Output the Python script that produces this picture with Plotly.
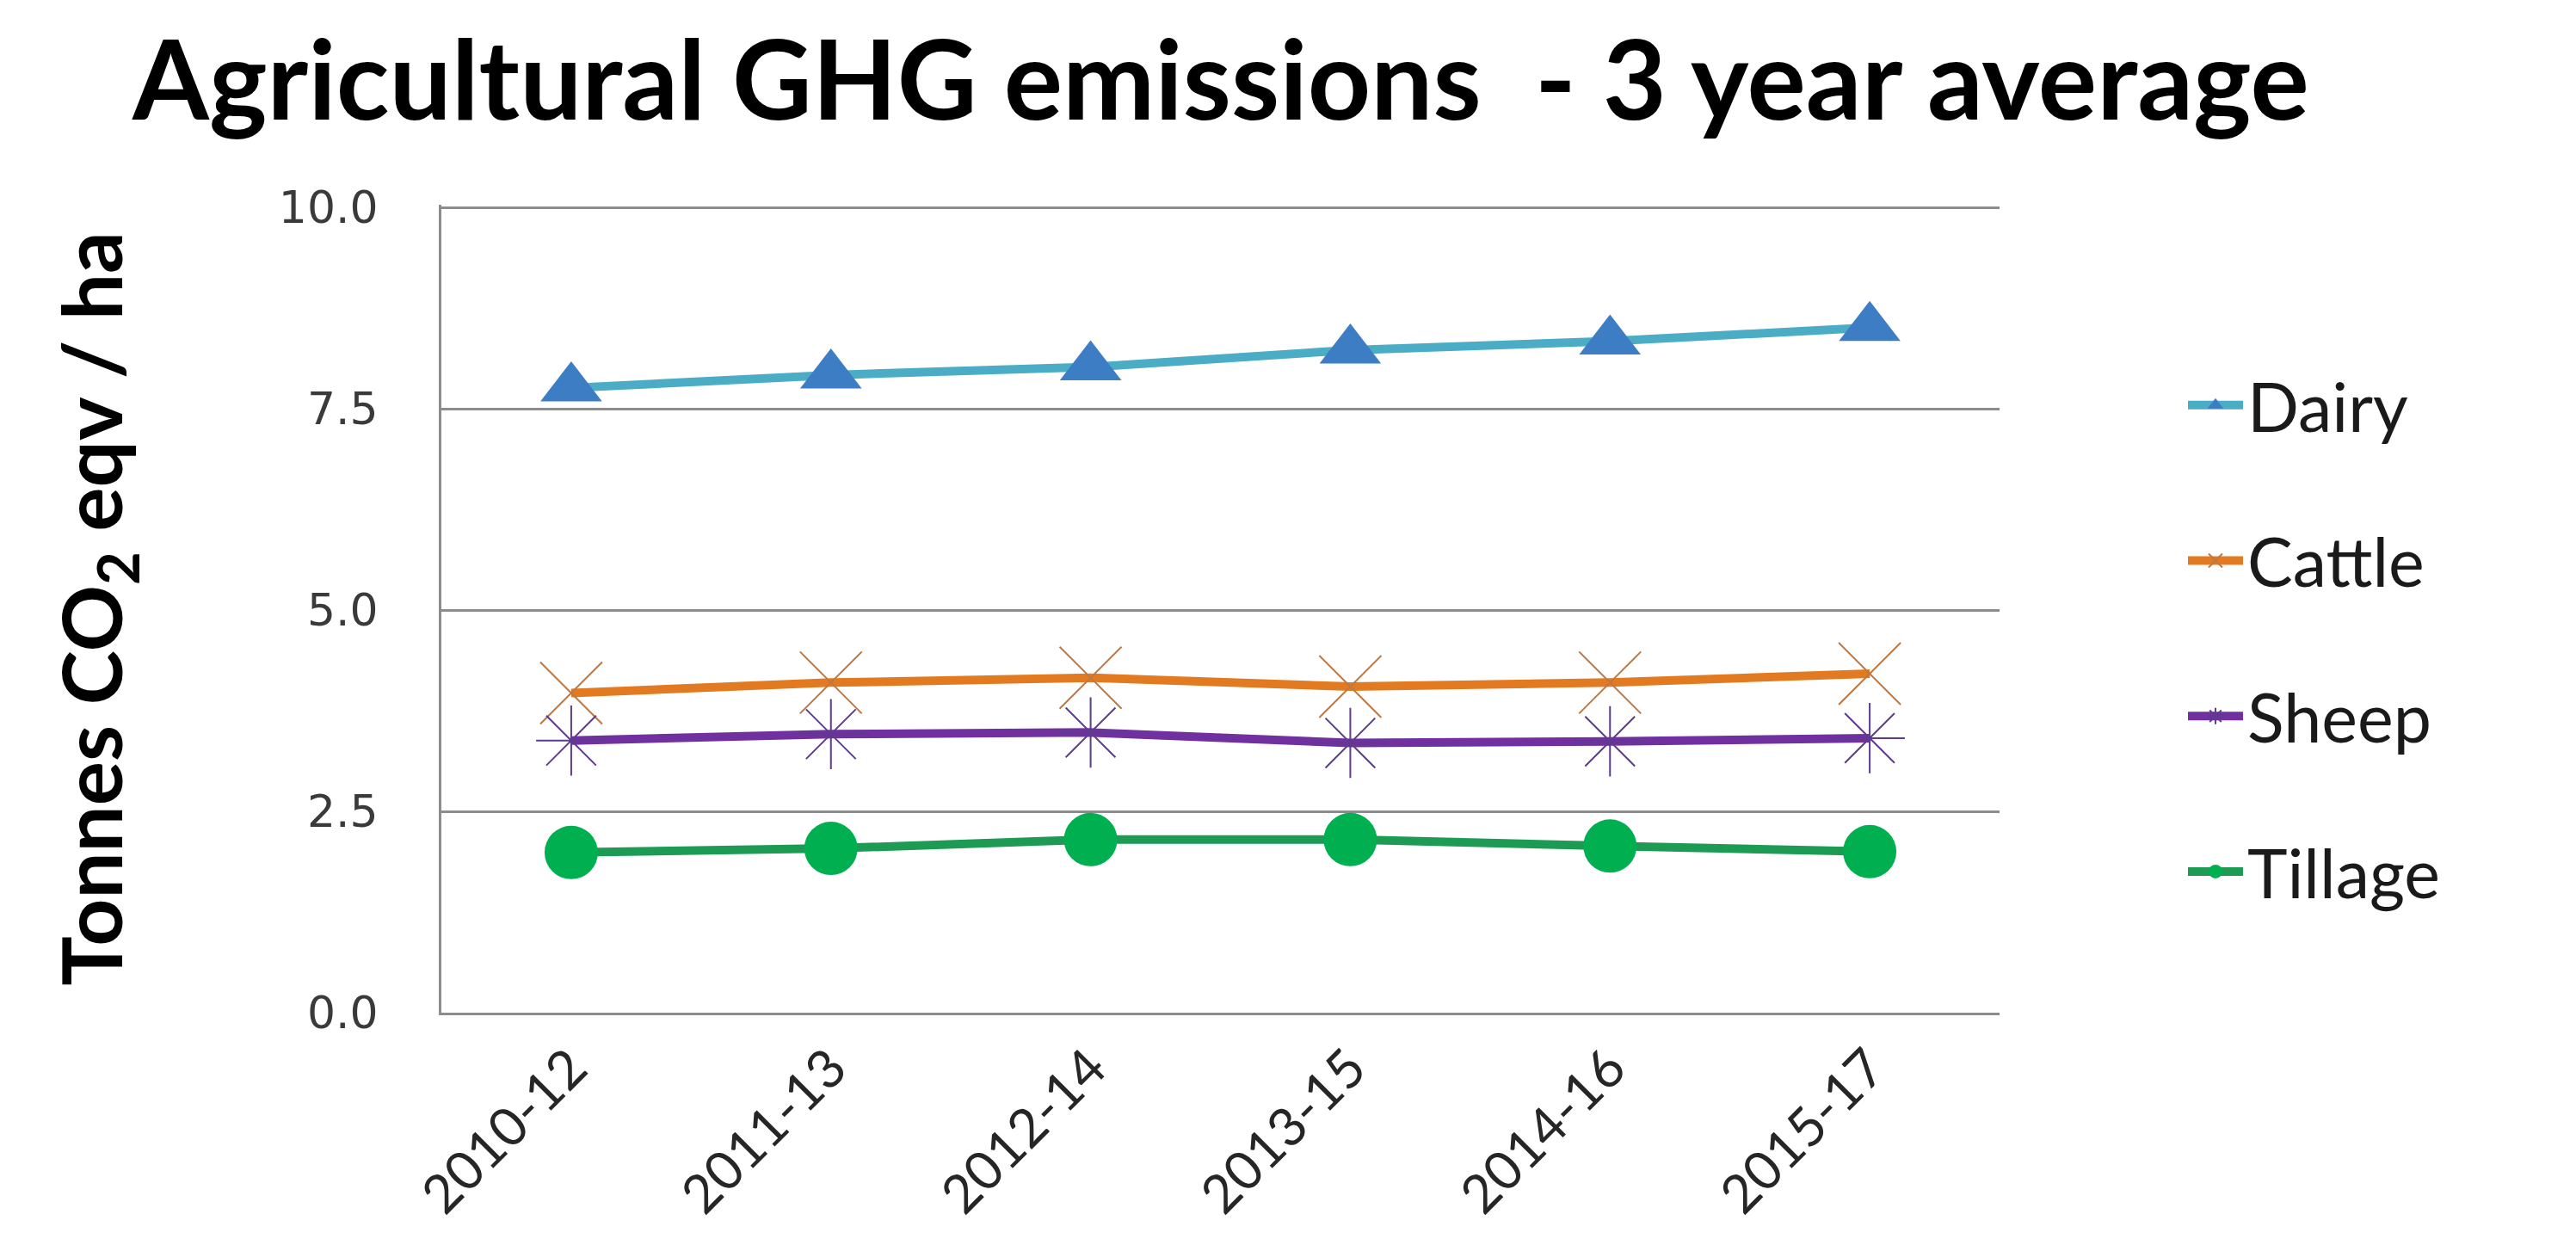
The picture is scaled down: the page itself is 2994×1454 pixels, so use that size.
import plotly.graph_objects as go

periods = ["2010-12", "2011-13", "2012-14", "2013-15", "2014-16", "2015-17"]
dairy = [7.76, 7.92, 8.02, 8.23, 8.34, 8.51]
cattle = [3.97, 4.10, 4.16, 4.05, 4.10, 4.21]
sheep = [3.38, 3.46, 3.48, 3.35, 3.37, 3.41]
tillage = [1.99, 2.04, 2.15, 2.15, 2.07, 2.00]
y_ticks = [0, 2.5, 5.0, 7.5, 10.0]

W, H = 2994, 1454
L, R, T, B = 505, 2316, 230, 1169

fig = go.Figure()

fig.add_trace(go.Scatter(
    x=periods, y=dairy, name="Dairy", mode="lines+markers",
    line=dict(color="#4BACC6", width=10),
    marker=dict(symbol="triangle-up", size=62, color="#3C7DC4"),
    legendgroup="a"))
fig.add_trace(go.Scatter(
    x=periods, y=cattle, name="Cattle", mode="lines+markers",
    line=dict(color="#E27A22", width=10),
    marker=dict(symbol="x-thin", size=72, color="#C07840",
                line=dict(color="#C07840", width=2)),
    legendgroup="b"))
fig.add_trace(go.Scatter(
    x=periods, y=sheep, name="Sheep", mode="lines+markers",
    line=dict(color="#7030A0", width=10),
    marker=dict(symbol="asterisk-open", size=68, color="#5E3A90",
                line=dict(color="#5E3A90", width=2)),
    legendgroup="c"))
fig.add_trace(go.Scatter(
    x=periods, y=tillage, name="Tillage", mode="lines+markers",
    line=dict(color="#1D9B55", width=10),
    marker=dict(symbol="circle", size=62, color="#00B050"),
    legendgroup="d"))

fig.update_layout(
    width=W, height=H,
    margin=dict(l=L, r=W - R, t=T, b=H - B, autoexpand=False),
    paper_bgcolor="white", plot_bgcolor="white",
    title=dict(
        text="<b>Agricultural GHG emissions  - 3 year average</b>",
        x=1411 / W, xanchor="center", xref="container",
        y=1 - 86 / H, yanchor="middle",
        font=dict(family="Lato, sans-serif", size=128, color="#000000")),
    legend=dict(
        x=(2530 - L) / (R - L), xanchor="left",
        y=1 - (405 - T) / (B - T), yanchor="top",
        font=dict(family="Lato, sans-serif", size=79, color="#1a1a1a"),
        itemwidth=64,
        traceorder="grouped", tracegroupgap=75,
        bgcolor="rgba(0,0,0,0)"),
    showlegend=True,
)

fig.update_xaxes(
    type="category", range=[-0.5, 5.5],
    showgrid=False, showline=True, linecolor="#8C8C8C", linewidth=3,
    ticks="", tickangle=-45,
    ticklabelstandoff=0,
    tickfont=dict(family="Lato, sans-serif", size=62, color="#262626"),
    zeroline=False)

fig.update_yaxes(
    range=[0, 10.035], tickvals=y_ticks, tickformat=".1f",
    showgrid=True, gridcolor="#8C8C8C", gridwidth=3,
    showline=True, linecolor="#8C8C8C", linewidth=3,
    ticks="", ticklabelstandoff=60,
    tickfont=dict(family="DejaVu Sans, sans-serif", size=52, color="#3a3a3a"),
    zeroline=False,
    title=dict(text="<b>Tonnes CO<sub>2</sub> eqv / ha</b>",
               font=dict(family="Lato, sans-serif", size=96, color="#000000"),
               standoff=150))

fig.write_html("out.html")
